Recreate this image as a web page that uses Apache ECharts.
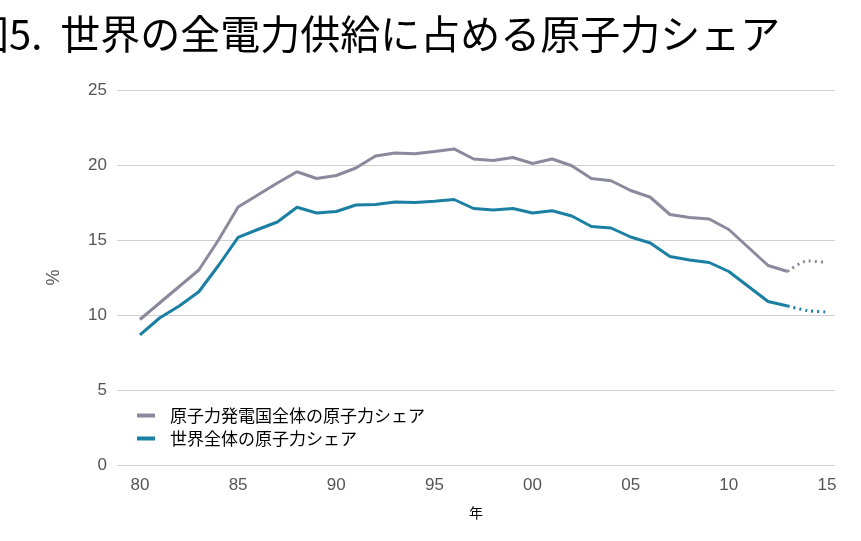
<!DOCTYPE html>
<html>
<head>
<meta charset="utf-8">
<script src="https://cdn.jsdelivr.net/npm/echarts@6/dist/echarts.min.js"></script>
<style>
  html, body { margin: 0; padding: 0; background: #fff; }
  #chart { width: 861px; height: 541px; }
</style>
</head>
<body>
<div id="chart"></div>
<script>
// 年（1980〜2015）
const years = [1980, 1981, 1982, 1983, 1984, 1985, 1986, 1987, 1988, 1989,
  1990, 1991, 1992, 1993, 1994, 1995, 1996, 1997, 1998, 1999,
  2000, 2001, 2002, 2003, 2004, 2005, 2006, 2007, 2008, 2009,
  2010, 2011, 2012, 2013, 2014, 2015];

// 原子力発電国全体の原子力シェア（%）、2014-15 は見通し（点線）
const nuclearCountries = [9.7, 10.8, 11.9, 13.0, 15.0, 17.2, 18.0, 18.8, 19.55, 19.1,
  19.3, 19.8, 20.6, 20.8, 20.75, 20.9, 21.07, 20.4, 20.3, 20.5,
  20.1, 20.4, 19.95, 19.1, 18.95, 18.3, 17.85, 16.7, 16.5, 16.4,
  15.7, 14.5, 13.3, 12.9, 13.6, 13.5];

// 世界全体の原子力シェア（%）
const worldShare = [8.67, 9.8, 10.6, 11.55, 13.3, 15.18, 15.7, 16.2, 17.18, 16.8,
  16.9, 17.33, 17.36, 17.53, 17.5, 17.58, 17.7, 17.1, 17.0, 17.1,
  16.8, 16.95, 16.6, 15.9, 15.8, 15.2, 14.8, 13.9, 13.67, 13.5,
  12.9, 11.9, 10.9, 10.6, 10.3, 10.2];

const lastActualYear = 2013;
const xTicks = [1980, 1985, 1990, 1995, 2000, 2005, 2010, 2015];
const seriesNames = ['原子力発電国全体の原子力シェア', '世界全体の原子力シェア'];

// 実績部分と見通し部分に分ける
function actualPart(vals) {
  return years.filter(y => y <= lastActualYear).map(y => [y, vals[years.indexOf(y)]]);
}
function forecastPart(vals) {
  return years.filter(y => y >= lastActualYear).map(y => [y, vals[years.indexOf(y)]]);
}

const grayColor = '#8a8a9c';
const blueColor = '#1a7fa3';

const chart = echarts.init(document.getElementById('chart'));
const option = {
  animation: false,
  title: {
    text: '図5.  世界の全電力供給に占める原子力シェア',
    left: -36,
    top: 9,
    textStyle: {
      fontFamily: 'Noto Sans CJK JP',
      fontSize: 40,
      fontWeight: 'normal',
      color: '#000'
    }
  },
  legend: {
    data: seriesNames,
    orient: 'vertical',
    left: 132,
    top: 402,
    itemWidth: 18,
    itemHeight: 4,
    itemGap: 6,
    icon: 'rect',
    textStyle: {
      fontFamily: 'Noto Sans CJK JP',
      fontSize: 17,
      color: '#000',
      padding: [0, 0, 0, 10]
    }
  },
  grid: { left: 117, right: 26, top: 90, bottom: 76 },
  xAxis: {
    type: 'value',
    min: 1978.83,
    max: 2015.41,
    name: '年',
    nameLocation: 'middle',
    nameGap: 41,
    nameTextStyle: { fontFamily: 'Noto Sans CJK JP', fontSize: 14, color: '#000' },
    axisLine: { show: false },
    axisTick: { show: false },
    splitLine: { show: false },
    axisLabel: {
      customValues: xTicks,
      margin: 12,
      fontFamily: 'Helvetica, Arial, sans-serif',
      fontSize: 17,
      color: '#555',
      formatter: v => String(v % 100).padStart(2, '0')
    }
  },
  yAxis: {
    type: 'value',
    min: 0,
    max: 25,
    interval: 5,
    name: '%',
    nameLocation: 'middle',
    nameGap: 54,
    nameRotate: 90,
    nameTextStyle: { fontSize: 18, color: '#555', fontFamily: 'Helvetica, Arial, sans-serif' },
    axisLine: { show: false },
    axisTick: { show: false },
    axisLabel: {
      margin: 10,
      fontFamily: 'Helvetica, Arial, sans-serif',
      fontSize: 17,
      color: '#555'
    },
    splitLine: { lineStyle: { color: '#cfcfd4', width: 1 } }
  },
  series: [
    {
      name: seriesNames[0],
      type: 'line',
      data: actualPart(nuclearCountries),
      showSymbol: false,
      lineStyle: { color: grayColor, width: 3 },
      itemStyle: { color: grayColor }
    },
    {
      name: seriesNames[1],
      type: 'line',
      data: actualPart(worldShare),
      showSymbol: false,
      lineStyle: { color: blueColor, width: 3 },
      itemStyle: { color: blueColor }
    },
    {
      name: 'gray-forecast',
      type: 'line',
      data: forecastPart(nuclearCountries),
      showSymbol: false,
      smooth: 0.3,
      lineStyle: { color: grayColor, width: 3, type: [2, 4] },
      itemStyle: { color: grayColor }
    },
    {
      name: 'blue-forecast',
      type: 'line',
      data: forecastPart(worldShare),
      showSymbol: false,
      smooth: 0.3,
      lineStyle: { color: blueColor, width: 3, type: [2, 4] },
      itemStyle: { color: blueColor }
    }
  ]
};
chart.setOption(option);
</script>
</body>
</html>
